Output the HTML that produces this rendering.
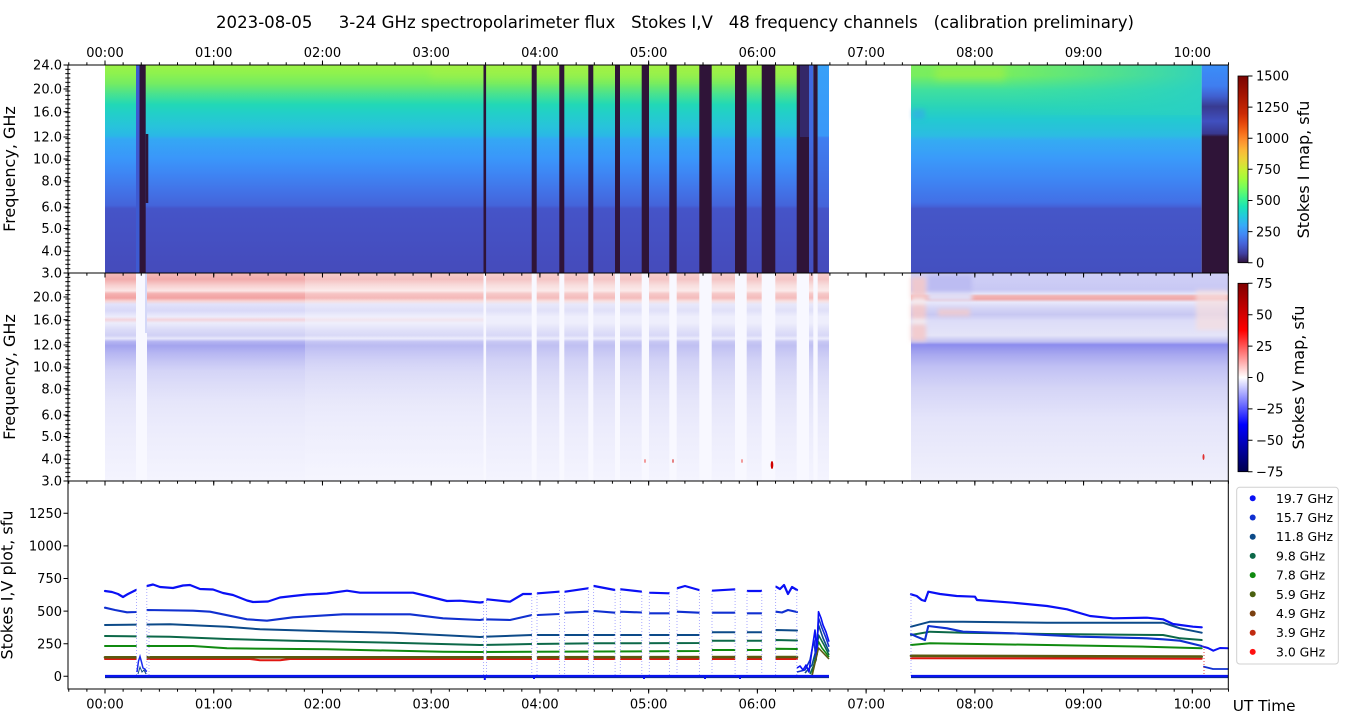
<!DOCTYPE html>
<html><head><meta charset="utf-8"><style>
html,body{margin:0;padding:0;background:#fff;}
svg{display:block;}
text{font-family:"DejaVu Sans","Liberation Sans",sans-serif;fill:#000;}
</style></head><body>
<svg width="1350" height="725" viewBox="0 0 1350 725" xmlns="http://www.w3.org/2000/svg">
<defs>
<filter id="blur3" x="-30%" y="-60%" width="160%" height="220%"><feGaussianBlur stdDeviation="4"/></filter>
<filter id="blur2" x="-30%" y="-60%" width="160%" height="220%"><feGaussianBlur stdDeviation="2"/></filter>
<linearGradient id="gI1" x1="0" y1="0" x2="0" y2="1">
<stop offset="0" stop-color="#9cf246"/><stop offset="0.04" stop-color="#8ef24e"/><stop offset="0.09" stop-color="#74ec62"/>
<stop offset="0.14" stop-color="#48e290"/><stop offset="0.19" stop-color="#22d8b6"/><stop offset="0.23" stop-color="#22d0c8"/>
<stop offset="0.30" stop-color="#28c2dc"/><stop offset="0.34" stop-color="#2ab8e6"/><stop offset="0.355" stop-color="#34a8f4"/>
<stop offset="0.45" stop-color="#3a96fa"/><stop offset="0.52" stop-color="#3e86f4"/><stop offset="0.60" stop-color="#4274e8"/>
<stop offset="0.675" stop-color="#4464da"/><stop offset="0.69" stop-color="#4554c8"/><stop offset="1" stop-color="#454bbb"/>
</linearGradient>
<linearGradient id="gI2" x1="0" y1="0" x2="0" y2="1">
<stop offset="0" stop-color="#7cee5e"/><stop offset="0.05" stop-color="#78ee5e"/><stop offset="0.12" stop-color="#40e09e"/>
<stop offset="0.20" stop-color="#2ad4b8"/><stop offset="0.26" stop-color="#22cad0"/><stop offset="0.34" stop-color="#2cbce2"/>
<stop offset="0.36" stop-color="#34acf2"/><stop offset="0.45" stop-color="#3a9afa"/><stop offset="0.55" stop-color="#3e86f4"/>
<stop offset="0.66" stop-color="#4270e6"/><stop offset="0.68" stop-color="#4462d8"/><stop offset="0.69" stop-color="#4556c8"/>
<stop offset="1" stop-color="#4450c0"/>
</linearGradient>
<linearGradient id="gI3" x1="0" y1="0" x2="0" y2="1">
<stop offset="0" stop-color="#3a8ef8"/><stop offset="0.1" stop-color="#3f7ef0"/><stop offset="0.15" stop-color="#4060d0"/>
<stop offset="0.2" stop-color="#383a90"/><stop offset="0.27" stop-color="#4050c0"/><stop offset="0.33" stop-color="#383890"/>
<stop offset="0.345" stop-color="#2f1438"/><stop offset="1" stop-color="#2f1438"/>
</linearGradient>
<linearGradient id="gI4" x1="0" y1="0" x2="0" y2="1">
<stop offset="0" stop-color="#38a0f8"/><stop offset="0.34" stop-color="#3a98f8"/><stop offset="0.35" stop-color="#3f7ef0"/>
<stop offset="0.68" stop-color="#4464da"/><stop offset="0.69" stop-color="#4554c8"/><stop offset="1" stop-color="#454bbb"/>
</linearGradient>
<linearGradient id="gI5" x1="0" y1="0" x2="0" y2="1">
<stop offset="0" stop-color="#3f6ae0"/><stop offset="0.35" stop-color="#3f6ae0"/><stop offset="0.7" stop-color="#4456c8"/><stop offset="1" stop-color="#4450c0"/>
</linearGradient>
<linearGradient id="gFade" x1="0" y1="0" x2="1" y2="0">
<stop offset="0" stop-color="#2ad8b4" stop-opacity="0"/><stop offset="1" stop-color="#2ad0c4" stop-opacity="0.9"/>
</linearGradient>
<linearGradient id="gV1" x1="0" y1="0" x2="0" y2="1">
<stop offset="0" stop-color="#f4bcbc"/><stop offset="0.03" stop-color="#f2aaaa"/><stop offset="0.06" stop-color="#f8d0d0"/>
<stop offset="0.085" stop-color="#fbe6e6"/><stop offset="0.10" stop-color="#f4b0b0"/><stop offset="0.12" stop-color="#f2a2a2"/>
<stop offset="0.135" stop-color="#f8d4d4"/><stop offset="0.15" stop-color="#e2e2fa"/><stop offset="0.18" stop-color="#d8d8f8"/>
<stop offset="0.21" stop-color="#ececfc"/><stop offset="0.225" stop-color="#f4d4dc"/><stop offset="0.24" stop-color="#ececfb"/>
<stop offset="0.27" stop-color="#dcdcf8"/><stop offset="0.30" stop-color="#d0d0f5"/><stop offset="0.315" stop-color="#e8e8fb"/>
<stop offset="0.33" stop-color="#b4b4f2"/><stop offset="0.35" stop-color="#a4a4ee"/><stop offset="0.38" stop-color="#b4b4f2"/>
<stop offset="0.42" stop-color="#c4c4f4"/><stop offset="0.47" stop-color="#d4d4f7"/><stop offset="0.53" stop-color="#dcdcf8"/>
<stop offset="0.62" stop-color="#e6e6fa"/><stop offset="0.75" stop-color="#ececfc"/><stop offset="1" stop-color="#f4f4fe"/>
</linearGradient>
<linearGradient id="gV2" x1="0" y1="0" x2="0" y2="1">
<stop offset="0" stop-color="#f6d0d0"/><stop offset="0.03" stop-color="#f4c4c4"/><stop offset="0.06" stop-color="#f8dede"/>
<stop offset="0.085" stop-color="#fbeaea"/><stop offset="0.10" stop-color="#f6c8c8"/><stop offset="0.12" stop-color="#f4bcbc"/>
<stop offset="0.135" stop-color="#f8e0e0"/><stop offset="0.15" stop-color="#e8e8fa"/><stop offset="0.18" stop-color="#e0e0f8"/>
<stop offset="0.21" stop-color="#eeeefc"/><stop offset="0.24" stop-color="#eeeefc"/>
<stop offset="0.27" stop-color="#e2e2f9"/><stop offset="0.30" stop-color="#d8d8f7"/><stop offset="0.315" stop-color="#ececfc"/>
<stop offset="0.33" stop-color="#c8c8f4"/><stop offset="0.35" stop-color="#c0c0f2"/><stop offset="0.38" stop-color="#c8c8f4"/>
<stop offset="0.42" stop-color="#d2d2f6"/><stop offset="0.5" stop-color="#dcdcf8"/>
<stop offset="0.62" stop-color="#e6e6fa"/><stop offset="0.75" stop-color="#ececfc"/><stop offset="1" stop-color="#f4f4fe"/>
</linearGradient>
<linearGradient id="gV3" x1="0" y1="0" x2="0" y2="1">
<stop offset="0" stop-color="#d0d0f6"/><stop offset="0.08" stop-color="#c8c8f4"/><stop offset="0.10" stop-color="#e4e4f8"/>
<stop offset="0.11" stop-color="#f2b4b4"/><stop offset="0.125" stop-color="#f0a8a8"/><stop offset="0.14" stop-color="#e8e8fb"/>
<stop offset="0.17" stop-color="#d4d4f6"/><stop offset="0.2" stop-color="#c8c8f2"/><stop offset="0.23" stop-color="#dcdcf8"/>
<stop offset="0.3" stop-color="#e4e4f8"/><stop offset="0.33" stop-color="#c0c0f2"/><stop offset="0.345" stop-color="#8c8cee"/>
<stop offset="0.37" stop-color="#9c9cee"/><stop offset="0.4" stop-color="#acacf0"/><stop offset="0.45" stop-color="#c0c0f4"/>
<stop offset="0.55" stop-color="#d4d4f6"/><stop offset="0.7" stop-color="#e4e4fa"/><stop offset="1" stop-color="#f0f0fc"/>
</linearGradient>
<linearGradient id="gTurbo" x1="0" y1="1" x2="0" y2="0">
<stop offset="0" stop-color="#30123b"/><stop offset="0.05" stop-color="#4040a2"/><stop offset="0.1" stop-color="#4662d7"/>
<stop offset="0.15" stop-color="#4287f5"/><stop offset="0.2" stop-color="#36aaf9"/><stop offset="0.25" stop-color="#22c9dd"/>
<stop offset="0.3" stop-color="#1ae4b6"/><stop offset="0.35" stop-color="#3ff58a"/><stop offset="0.4" stop-color="#72fe5e"/>
<stop offset="0.45" stop-color="#a2fc3c"/><stop offset="0.5" stop-color="#c8ef34"/><stop offset="0.55" stop-color="#e9d539"/>
<stop offset="0.6" stop-color="#faba39"/><stop offset="0.65" stop-color="#fd9330"/><stop offset="0.7" stop-color="#f66b19"/>
<stop offset="0.75" stop-color="#e4460a"/><stop offset="0.8" stop-color="#cb2a04"/><stop offset="0.9" stop-color="#a31401"/>
<stop offset="1" stop-color="#7a0403"/>
</linearGradient>
<linearGradient id="gSeis" x1="0" y1="1" x2="0" y2="0">
<stop offset="0" stop-color="#00004d"/><stop offset="0.25" stop-color="#0000ff"/><stop offset="0.5" stop-color="#ffffff"/>
<stop offset="0.75" stop-color="#ff0000"/><stop offset="1" stop-color="#800000"/>
</linearGradient>
<pattern id="pX" x="68.26" y="0" width="18.122" height="20" patternUnits="userSpaceOnUse">
<rect x="0" y="0" width="1" height="20" fill="#000"/></pattern>
<pattern id="pY" x="0" y="64.5" width="20" height="4.3333" patternUnits="userSpaceOnUse">
<rect x="0" y="0" width="20" height="1" fill="#000"/></pattern>
<clipPath id="cTop"><rect x="68" y="65" width="1160.3" height="208"/></clipPath>
<clipPath id="cMid"><rect x="68" y="273" width="1160.3" height="208"/></clipPath>
</defs>

<!-- Title -->
<text x="675" y="28" text-anchor="middle" font-size="16.5" style="white-space:pre" textLength="918" lengthAdjust="spacingAndGlyphs">2023-08-05     3-24 GHz spectropolarimeter flux   Stokes I,V   48 frequency channels   (calibration preliminary)</text>

<!-- ===== TOP PANEL: Stokes I map ===== -->
<g clip-path="url(#cTop)">
<rect x="105" y="65" width="724" height="208" fill="url(#gI1)"/>
<rect x="430" y="62" width="380" height="18" fill="#b4f040" opacity="0.3" filter="url(#blur3)"/>
<rect x="911" y="65" width="290.7" height="208" fill="url(#gI2)"/>
<rect x="1000" y="65" width="201.7" height="50" fill="url(#gFade)"/>
<rect x="935" y="66" width="70" height="14" fill="#a8f040" opacity="0.55" filter="url(#blur3)"/>
<rect x="912" y="109" width="13" height="10" fill="#38a4f0" opacity="0.5" filter="url(#blur2)"/>
<rect x="1201.7" y="65" width="26.6" height="208" fill="url(#gI3)"/>
</g>
<!-- dark bands -->
<g fill="#2f1438">
<rect x="139.5" y="65" width="6.2" height="208"/>
<rect x="145.7" y="134" width="2.6" height="69"/>
<rect x="483.5" y="65" width="2.6" height="208"/>
<rect x="531.7" y="65" width="5" height="208"/>
<rect x="559.3" y="65" width="5" height="208"/>
<rect x="588.3" y="65" width="5" height="208"/>
<rect x="615" y="65" width="5" height="208"/>
<rect x="641.7" y="65" width="7.3" height="208"/>
<rect x="669.3" y="65" width="7.4" height="208"/>
<rect x="699.3" y="65" width="12.4" height="208"/>
<rect x="735" y="65" width="11.7" height="208"/>
<rect x="761.7" y="65" width="13.6" height="208"/>
<rect x="796.7" y="65" width="12.3" height="208"/>
<rect x="813.3" y="65" width="4.4" height="208"/>
</g>
<rect x="136" y="65" width="3.5" height="208" fill="#3d5ad2"/>
<rect x="800" y="65" width="9" height="72" fill="#3a3a98" opacity="0.5"/>
<rect x="809" y="65" width="4.3" height="208" fill="url(#gI5)"/>
<rect x="817.7" y="65" width="11.3" height="208" fill="url(#gI4)"/>
<rect x="68" y="65" width="1160.3" height="208" fill="none" stroke="#000" stroke-width="1"/>

<!-- ===== MIDDLE PANEL: Stokes V map ===== -->
<g clip-path="url(#cMid)">
<rect x="105" y="273" width="200" height="208" fill="url(#gV1)"/>
<rect x="305" y="273" width="180" height="208" fill="url(#gV1)" opacity="0.8"/>
<rect x="305" y="273" width="180" height="208" fill="url(#gV2)" opacity="0.5"/>
<rect x="486" y="273" width="343" height="208" fill="url(#gV2)"/>
<rect x="911" y="273" width="317.3" height="208" fill="url(#gV3)"/>
<g filter="url(#blur2)">
<rect x="911" y="277" width="15" height="64" fill="#f4c8c8" opacity="0.85"/>
<rect x="911" y="299" width="15" height="5" fill="#f4f0f4"/>
<rect x="911" y="319" width="15" height="5" fill="#f2eef4"/>
<rect x="928" y="275" width="44" height="17" fill="#bcbcf2"/>
<rect x="928" y="293" width="44" height="8" fill="#e0e0f8"/>
<rect x="938" y="309" width="32" height="7" fill="#f4caca" opacity="0.8"/>
<rect x="1196" y="290" width="32" height="40" fill="#f6dede" opacity="0.7"/>
</g>
</g>
<!-- white vertical stripes -->
<g fill="#f8f8ff">
<rect x="136" y="273" width="11" height="208"/>
<rect x="483.5" y="273" width="2.6" height="208"/>
<rect x="531.7" y="273" width="5" height="208"/>
<rect x="559.3" y="273" width="5" height="208"/>
<rect x="588.3" y="273" width="5" height="208"/>
<rect x="615" y="273" width="5" height="208"/>
<rect x="641.7" y="273" width="7.3" height="208"/>
<rect x="669.3" y="273" width="7.4" height="208"/>
<rect x="699.3" y="273" width="12.4" height="208"/>
<rect x="735" y="273" width="11.7" height="208"/>
<rect x="761.7" y="273" width="13.6" height="208"/>
<rect x="796.7" y="273" width="12.3" height="208"/>
<rect x="813.3" y="273" width="4.4" height="208"/>
</g>
<rect x="145.5" y="273" width="1" height="60" fill="#b0b8f2"/>
<ellipse cx="772" cy="465" rx="1.3" ry="4" fill="#d00000"/>
<ellipse cx="1203.5" cy="457" rx="1" ry="3" fill="#e03030"/>
<ellipse cx="645" cy="461" rx="0.8" ry="2" fill="#f08080"/>
<ellipse cx="673" cy="461" rx="0.8" ry="2" fill="#e06060"/>
<ellipse cx="742" cy="461" rx="0.8" ry="2" fill="#f08080"/>
<rect x="68" y="273" width="1160.3" height="208" fill="none" stroke="#000" stroke-width="1"/>

<!-- ===== BOTTOM PANEL: lines ===== -->
<g fill="none" stroke-linejoin="round" stroke-linecap="round">
<polyline stroke="#e01510" stroke-width="2" points="105,659 250,659 260,660.3 280,660.3 290,659 797,659"/>
<polyline stroke="#e01510" stroke-width="2" points="911,658.2 1201.7,658.8"/>
<polyline stroke="#5a5a10" stroke-width="2.6" points="105,657.3 480,657.3 797,657"/>
<polyline stroke="#5a5a10" stroke-width="2.6" points="911,655.8 1201.7,656.6"/>
<polyline stroke="#108a10" stroke-width="2" points="105,646 193,646 227,648.3 327,649.3 443,651.7 480,652 532,651.7 600,651.5 699,651 712,650 761,650 776,648.7 797,649"/>
<polyline stroke="#108a10" stroke-width="2" points="911,645 930,643.3 1047,645 1147,646.7 1201.7,648.3"/>
<polyline stroke="#0c6848" stroke-width="2" points="105,636 170,636.7 227,639 293,640.7 393,642.7 480,645 532,644 600,643.3 699,643 712,640.7 761,640.7 776,640 797,640.5"/>
<polyline stroke="#0c6848" stroke-width="2" points="911,635 930,631.7 963,632.7 1047,634 1163,635 1180,638.3 1201.7,640"/>
<polyline stroke="#0c4a88" stroke-width="2" points="105,625 170,624.3 227,626.7 260,629.3 327,631.3 393,632.7 480,637 484,636.7 532,635 600,635 699,635 712,632.3 761,632.3 776,630 797,630.5"/>
<polyline stroke="#0c4a88" stroke-width="2" points="911,626.7 930,621.7 963,621.7 1047,622.7 1163,622.7 1180,628.3 1201.7,632.7"/>
<polyline stroke="#1030d0" stroke-width="2.1" points="105,607.7 115,610 127,612.3 136,612 147,610 193,610.7 210,611.7 247,619.3 267,620.7 293,617.3 343,614.3 410,614.3 443,618.3 480,620 484,619.3 510,620 532,615 538,615 559,614 565,612.7 588,611.7 594,611 615,612.7 621,611.7 642,612.5 649,613.3 669,613.3 677,611.7 699,612.7 712,612.7 735,612.7 747,613.3 761,613.3 776,611.7 782,612.5 788,610 797,612"/>
<polyline stroke="#1030d0" stroke-width="2.1" points="911,634 916.7,636.7 925,640 928.3,626 947,628.3 963,631.7 1013,633.3 1080,636.7 1147,638.3 1163,639.3 1180,640.7 1201.7,646"/>
<polyline stroke="#0a10f5" stroke-width="2.2" points="105,591 112,592 118,594 123,597 128,594 136,590 147,586 153,584.5 160,587 173,588 183,585.5 190,585 200,589 213,589.5 223,593 233,595 247,600.5 253,602 268,601.5 280,597.5 293,596 307,594.5 327,593.5 347,590.7 360,592.7 393,592.7 413,592.7 427,596 447,601 460,600.7 480,602.5 484,602 487,599.3 510,601.7 523,594 532,594 538,593.3 559,591.7 565,591.7 588,588.3 594,586 615,590 621,589.3 642,591.7 649,592.7 669,593.3 677,588.3 685,586 699,590 712,590.7 735,589.3 747,591 761,591 776,586.7 780,589 784,585 788,594 792,587 797,590"/>
<polyline stroke="#0a10f5" stroke-width="2.2" points="911,594.3 916.7,596 921.7,600 925,601 928.3,591.7 940,594 956.7,596 975,596.7 977,600 1013,602.7 1047,606 1067,609.3 1090,616 1113,618.3 1147,617.7 1163,619.3 1173,624 1193,626.7 1201.7,627.3"/>
<polyline stroke="#0a10f5" stroke-width="2" points="1203.3,646.7 1208,648 1213.3,650.7 1220,648 1228,648.3"/>
<polyline stroke="#1030d0" stroke-width="1.8" points="1204,666.7 1213,669 1228,669"/>
</g>
<g fill="#fff">
<rect x="136.6" y="580" width="10" height="92"/>
<rect x="483.7" y="580" width="2.6" height="92"/>
<rect x="531.9" y="580" width="5" height="92"/>
<rect x="559.5" y="580" width="5" height="92"/>
<rect x="588.5" y="580" width="5" height="92"/>
<rect x="615.2" y="580" width="5" height="92"/>
<rect x="641.9" y="580" width="7.3" height="92"/>
<rect x="669.5" y="580" width="7.4" height="92"/>
<rect x="699.5" y="580" width="12.4" height="92"/>
<rect x="735.2" y="580" width="11.7" height="92"/>
<rect x="761.9" y="580" width="13.6" height="92"/>
</g>
<g stroke="#8a8aff" stroke-width="0.9" stroke-dasharray="1 2" opacity="0.8">
<line x1="136.5" y1="590" x2="136.5" y2="676"/><line x1="146.8" y1="586" x2="146.8" y2="676"/><line x1="149" y1="620" x2="149" y2="676"/>
<line x1="483.6" y1="602" x2="483.6" y2="676"/><line x1="486.5" y1="599" x2="486.5" y2="676"/>
<line x1="531.8" y1="594" x2="531.8" y2="676"/><line x1="537" y1="593" x2="537" y2="676"/>
<line x1="559.4" y1="592" x2="559.4" y2="676"/><line x1="564.6" y1="592" x2="564.6" y2="676"/>
<line x1="588.4" y1="588" x2="588.4" y2="676"/><line x1="593.6" y1="586" x2="593.6" y2="676"/>
<line x1="615.1" y1="590" x2="615.1" y2="676"/><line x1="620.3" y1="589" x2="620.3" y2="676"/>
<line x1="641.8" y1="592" x2="641.8" y2="676"/><line x1="649.3" y1="593" x2="649.3" y2="676"/>
<line x1="669.4" y1="593" x2="669.4" y2="676"/><line x1="677" y1="588" x2="677" y2="676"/>
<line x1="699.4" y1="590" x2="699.4" y2="676"/><line x1="712" y1="591" x2="712" y2="676"/>
<line x1="735.1" y1="589" x2="735.1" y2="676"/><line x1="747" y1="591" x2="747" y2="676"/>
<line x1="761.8" y1="591" x2="761.8" y2="676"/><line x1="775.6" y1="587" x2="775.6" y2="676"/>
<line x1="796.8" y1="590" x2="796.8" y2="676"/>
<line x1="911" y1="594" x2="911" y2="676"/>
</g>
<line x1="1204" y1="646" x2="1204" y2="676" stroke="#e03030" stroke-width="0.9" stroke-dasharray="1 2"/>
<polyline fill="none" stroke="#1a2af0" stroke-width="1.5" points="137,672 138.5,661 140,656.5 141.5,662 143,668 145,669 146.5,672"/>
<polyline fill="none" stroke="#0c4a88" stroke-width="1" points="138,674 140,667 142,672 144,670 146,674"/>
<g fill="none" stroke-linejoin="round" stroke-width="1.6">
<polyline stroke="#108a10" points="812,675 818.5,641.7 822,648 829,657"/>
<polyline stroke="#0c6848" points="810,674 816,660 818.5,635 824,645 829,655"/>
<polyline stroke="#0c4a88" points="805,673 812,665 816,650 818.5,625 823,638 829,651.7"/>
<polyline stroke="#1030d0" points="797,672 805,670 810,660 814,640 816,660 818.5,618 822,628 826,638 829,646.7"/>
<polyline stroke="#0a10f5" points="797,668 800,666 803,670 806,665 809,672 812,650 815,630 817,655 818.5,611.7 821,618 823,625 826,632 829,641.7"/>
<polyline stroke="#5a5a10" points="812,676 818.5,648 829,659"/>
</g>
<polyline fill="none" stroke="#0a2a90" stroke-width="3" points="105,676.6 829,676.6"/>
<polyline fill="none" stroke="#0a14f0" stroke-width="2.2" points="105,676 829,676"/>
<polyline fill="none" stroke="#0a2a90" stroke-width="3" points="911,676.6 1228,676.6"/>
<polyline fill="none" stroke="#0a14f0" stroke-width="2.2" points="911,676 1228,676"/>
<g stroke="#0a14f0" stroke-width="2">
<line x1="484.8" y1="676" x2="484.8" y2="680"/><line x1="534" y1="676" x2="534" y2="679"/><line x1="644" y1="676" x2="644" y2="679"/>
<line x1="705" y1="676" x2="705" y2="679"/><line x1="740" y1="676" x2="740" y2="679"/>
</g>
<rect x="68" y="481" width="1160.3" height="208" fill="none" stroke="#000" stroke-width="1"/>

<!-- ===== X ticks ===== -->
<rect x="68" y="62.3" width="1161" height="2.7" fill="url(#pX)"/>
<rect x="68" y="273" width="1161" height="2.7" fill="url(#pX)"/>
<rect x="68" y="481" width="1161" height="2.7" fill="url(#pX)"/>
<rect x="68" y="689" width="1161" height="2.7" fill="url(#pX)"/>
<g stroke="#000" stroke-width="1">
<path d="M105,60.5V65M213.73,60.5V65M322.46,60.5V65M431.19,60.5V65M539.92,60.5V65M648.65,60.5V65M757.38,60.5V65M866.11,60.5V65M974.84,60.5V65M1083.57,60.5V65M1192.3,60.5V65"/>
<path d="M105,273V277.5M213.73,273V277.5M322.46,273V277.5M431.19,273V277.5M539.92,273V277.5M648.65,273V277.5M757.38,273V277.5M866.11,273V277.5M974.84,273V277.5M1083.57,273V277.5M1192.3,273V277.5"/>
<path d="M105,481V485.5M213.73,481V485.5M322.46,481V485.5M431.19,481V485.5M539.92,481V485.5M648.65,481V485.5M757.38,481V485.5M866.11,481V485.5M974.84,481V485.5M1083.57,481V485.5M1192.3,481V485.5"/>
<path d="M105,689V693.5M213.73,689V693.5M322.46,689V693.5M431.19,689V693.5M539.92,689V693.5M648.65,689V693.5M757.38,689V693.5M866.11,689V693.5M974.84,689V693.5M1083.57,689V693.5M1192.3,689V693.5"/>
</g>
<g font-size="13" text-anchor="middle">
<text x="105" y="57">00:00</text><text x="213.73" y="57">01:00</text><text x="322.46" y="57">02:00</text><text x="431.19" y="57">03:00</text>
<text x="539.92" y="57">04:00</text><text x="648.65" y="57">05:00</text><text x="757.38" y="57">06:00</text><text x="866.11" y="57">07:00</text>
<text x="974.84" y="57">08:00</text><text x="1083.57" y="57">09:00</text><text x="1192.3" y="57">10:00</text>
<text x="105" y="708.7">00:00</text><text x="213.73" y="708.7">01:00</text><text x="322.46" y="708.7">02:00</text><text x="431.19" y="708.7">03:00</text>
<text x="539.92" y="708.7">04:00</text><text x="648.65" y="708.7">05:00</text><text x="757.38" y="708.7">06:00</text><text x="866.11" y="708.7">07:00</text>
<text x="974.84" y="708.7">08:00</text><text x="1083.57" y="708.7">09:00</text><text x="1192.3" y="708.7">10:00</text>
</g>
<text x="1232.7" y="711" font-size="15.3">UT Time</text>

<!-- ===== Y ticks ===== -->
<rect x="65.3" y="65" width="5" height="208" fill="url(#pY)"/>
<rect x="65.3" y="273" width="5" height="208" fill="url(#pY)"/>
<g stroke="#000" stroke-width="1">
<path d="M63.5,65H68M63.5,89H68M63.5,111.7H68M63.5,137H68M63.5,159H68M63.5,180.7H68M63.5,207H68M63.5,228.5H68M63.5,251H68M63.5,273H68"/>
<path d="M63.5,297H68M63.5,319.7H68M63.5,345H68M63.5,367H68M63.5,388.7H68M63.5,415H68M63.5,436.5H68M63.5,459H68M63.5,481H68"/>
<path d="M63.5,676.3H68M63.5,643.7H68M63.5,611.1H68M63.5,578.5H68M63.5,545.9H68M63.5,513.3H68"/>
</g>
<g font-size="13" text-anchor="end">
<text x="62" y="69.7">24.0</text><text x="62" y="93.7">20.0</text><text x="62" y="116.4">16.0</text><text x="62" y="141.7">12.0</text>
<text x="62" y="163.7">10.0</text><text x="62" y="185.4">8.0</text><text x="62" y="211.7">6.0</text><text x="62" y="233.2">5.0</text>
<text x="62" y="255.7">4.0</text><text x="62" y="277.7">3.0</text>
<text x="62" y="301.7">20.0</text><text x="62" y="324.4">16.0</text><text x="62" y="349.7">12.0</text><text x="62" y="371.7">10.0</text>
<text x="62" y="393.4">8.0</text><text x="62" y="419.7">6.0</text><text x="62" y="441.2">5.0</text><text x="62" y="463.7">4.0</text>
<text x="62" y="485.7">3.0</text>
<text x="62" y="681">0</text><text x="62" y="648.4">250</text><text x="62" y="615.8">500</text><text x="62" y="583.2">750</text>
<text x="62" y="550.6">1000</text><text x="62" y="518">1250</text>
</g>
<g font-size="16" text-anchor="middle">
<text transform="translate(15,169) rotate(-90)">Frequency, GHz</text>
<text transform="translate(15,377) rotate(-90)">Frequency, GHz</text>
<text transform="translate(12.5,585) rotate(-90)">Stokes I,V plot, sfu</text>
<text transform="translate(1309,169.5) rotate(-90)">Stokes I map, sfu</text>
<text transform="translate(1304,377.5) rotate(-90)">Stokes V map, sfu</text>
</g>

<!-- ===== Colorbars ===== -->
<rect x="1238" y="76" width="10" height="186.7" fill="url(#gTurbo)" stroke="#000" stroke-width="0.8"/>
<g stroke="#000" stroke-width="1">
<path d="M1248,76H1252.5M1248,107.1H1252.5M1248,138.2H1252.5M1248,169.3H1252.5M1248,200.5H1252.5M1248,231.6H1252.5M1248,262.7H1252.5"/>
</g>
<g font-size="13">
<text x="1256" y="80.7">1500</text><text x="1256" y="111.8">1250</text><text x="1256" y="142.9">1000</text><text x="1256" y="174">750</text>
<text x="1256" y="205.2">500</text><text x="1256" y="236.3">250</text><text x="1256" y="267.4">0</text>
</g>
<rect x="1238" y="283.3" width="10" height="188.4" fill="url(#gSeis)" stroke="#000" stroke-width="0.8"/>
<g stroke="#000" stroke-width="1">
<path d="M1248,283.3H1252.5M1248,314.7H1252.5M1248,346.1H1252.5M1248,377.5H1252.5M1248,408.9H1252.5M1248,440.3H1252.5M1248,471.7H1252.5"/>
</g>
<g font-size="13">
<text x="1256" y="288">75</text><text x="1256" y="319.4">50</text><text x="1256" y="350.8">25</text><text x="1256" y="382.2">0</text>
<text x="1256" y="413.6">−25</text><text x="1256" y="445">−50</text><text x="1256" y="476.4">−75</text>
</g>

<!-- ===== Legend ===== -->
<rect x="1236.7" y="487.3" width="101.6" height="176.7" rx="3" fill="#fff" fill-opacity="0.85" stroke="#d0d0d0" stroke-width="1"/>
<g>
<circle cx="1252.7" cy="498.3" r="3" fill="#0a10f5"/>
<circle cx="1252.7" cy="517.5" r="3" fill="#1030d0"/>
<circle cx="1252.7" cy="536.7" r="3" fill="#0c4a88"/>
<circle cx="1252.7" cy="555.9" r="3" fill="#0c6848"/>
<circle cx="1252.7" cy="575.1" r="3" fill="#108a10"/>
<circle cx="1252.7" cy="594.3" r="3" fill="#4a6010"/>
<circle cx="1252.7" cy="613.5" r="3" fill="#7a4010"/>
<circle cx="1252.7" cy="632.7" r="3" fill="#c02a10"/>
<circle cx="1252.7" cy="651.9" r="3" fill="#ff1010"/>
</g>
<g font-size="12.4">
<text x="1276" y="502.8">19.7 GHz</text><text x="1276" y="522">15.7 GHz</text><text x="1276" y="541.2">11.8 GHz</text>
<text x="1276" y="560.4">9.8 GHz</text><text x="1276" y="579.6">7.8 GHz</text><text x="1276" y="598.8">5.9 GHz</text>
<text x="1276" y="618">4.9 GHz</text><text x="1276" y="637.2">3.9 GHz</text><text x="1276" y="656.4">3.0 GHz</text>
</g>
</svg>
</body></html>
